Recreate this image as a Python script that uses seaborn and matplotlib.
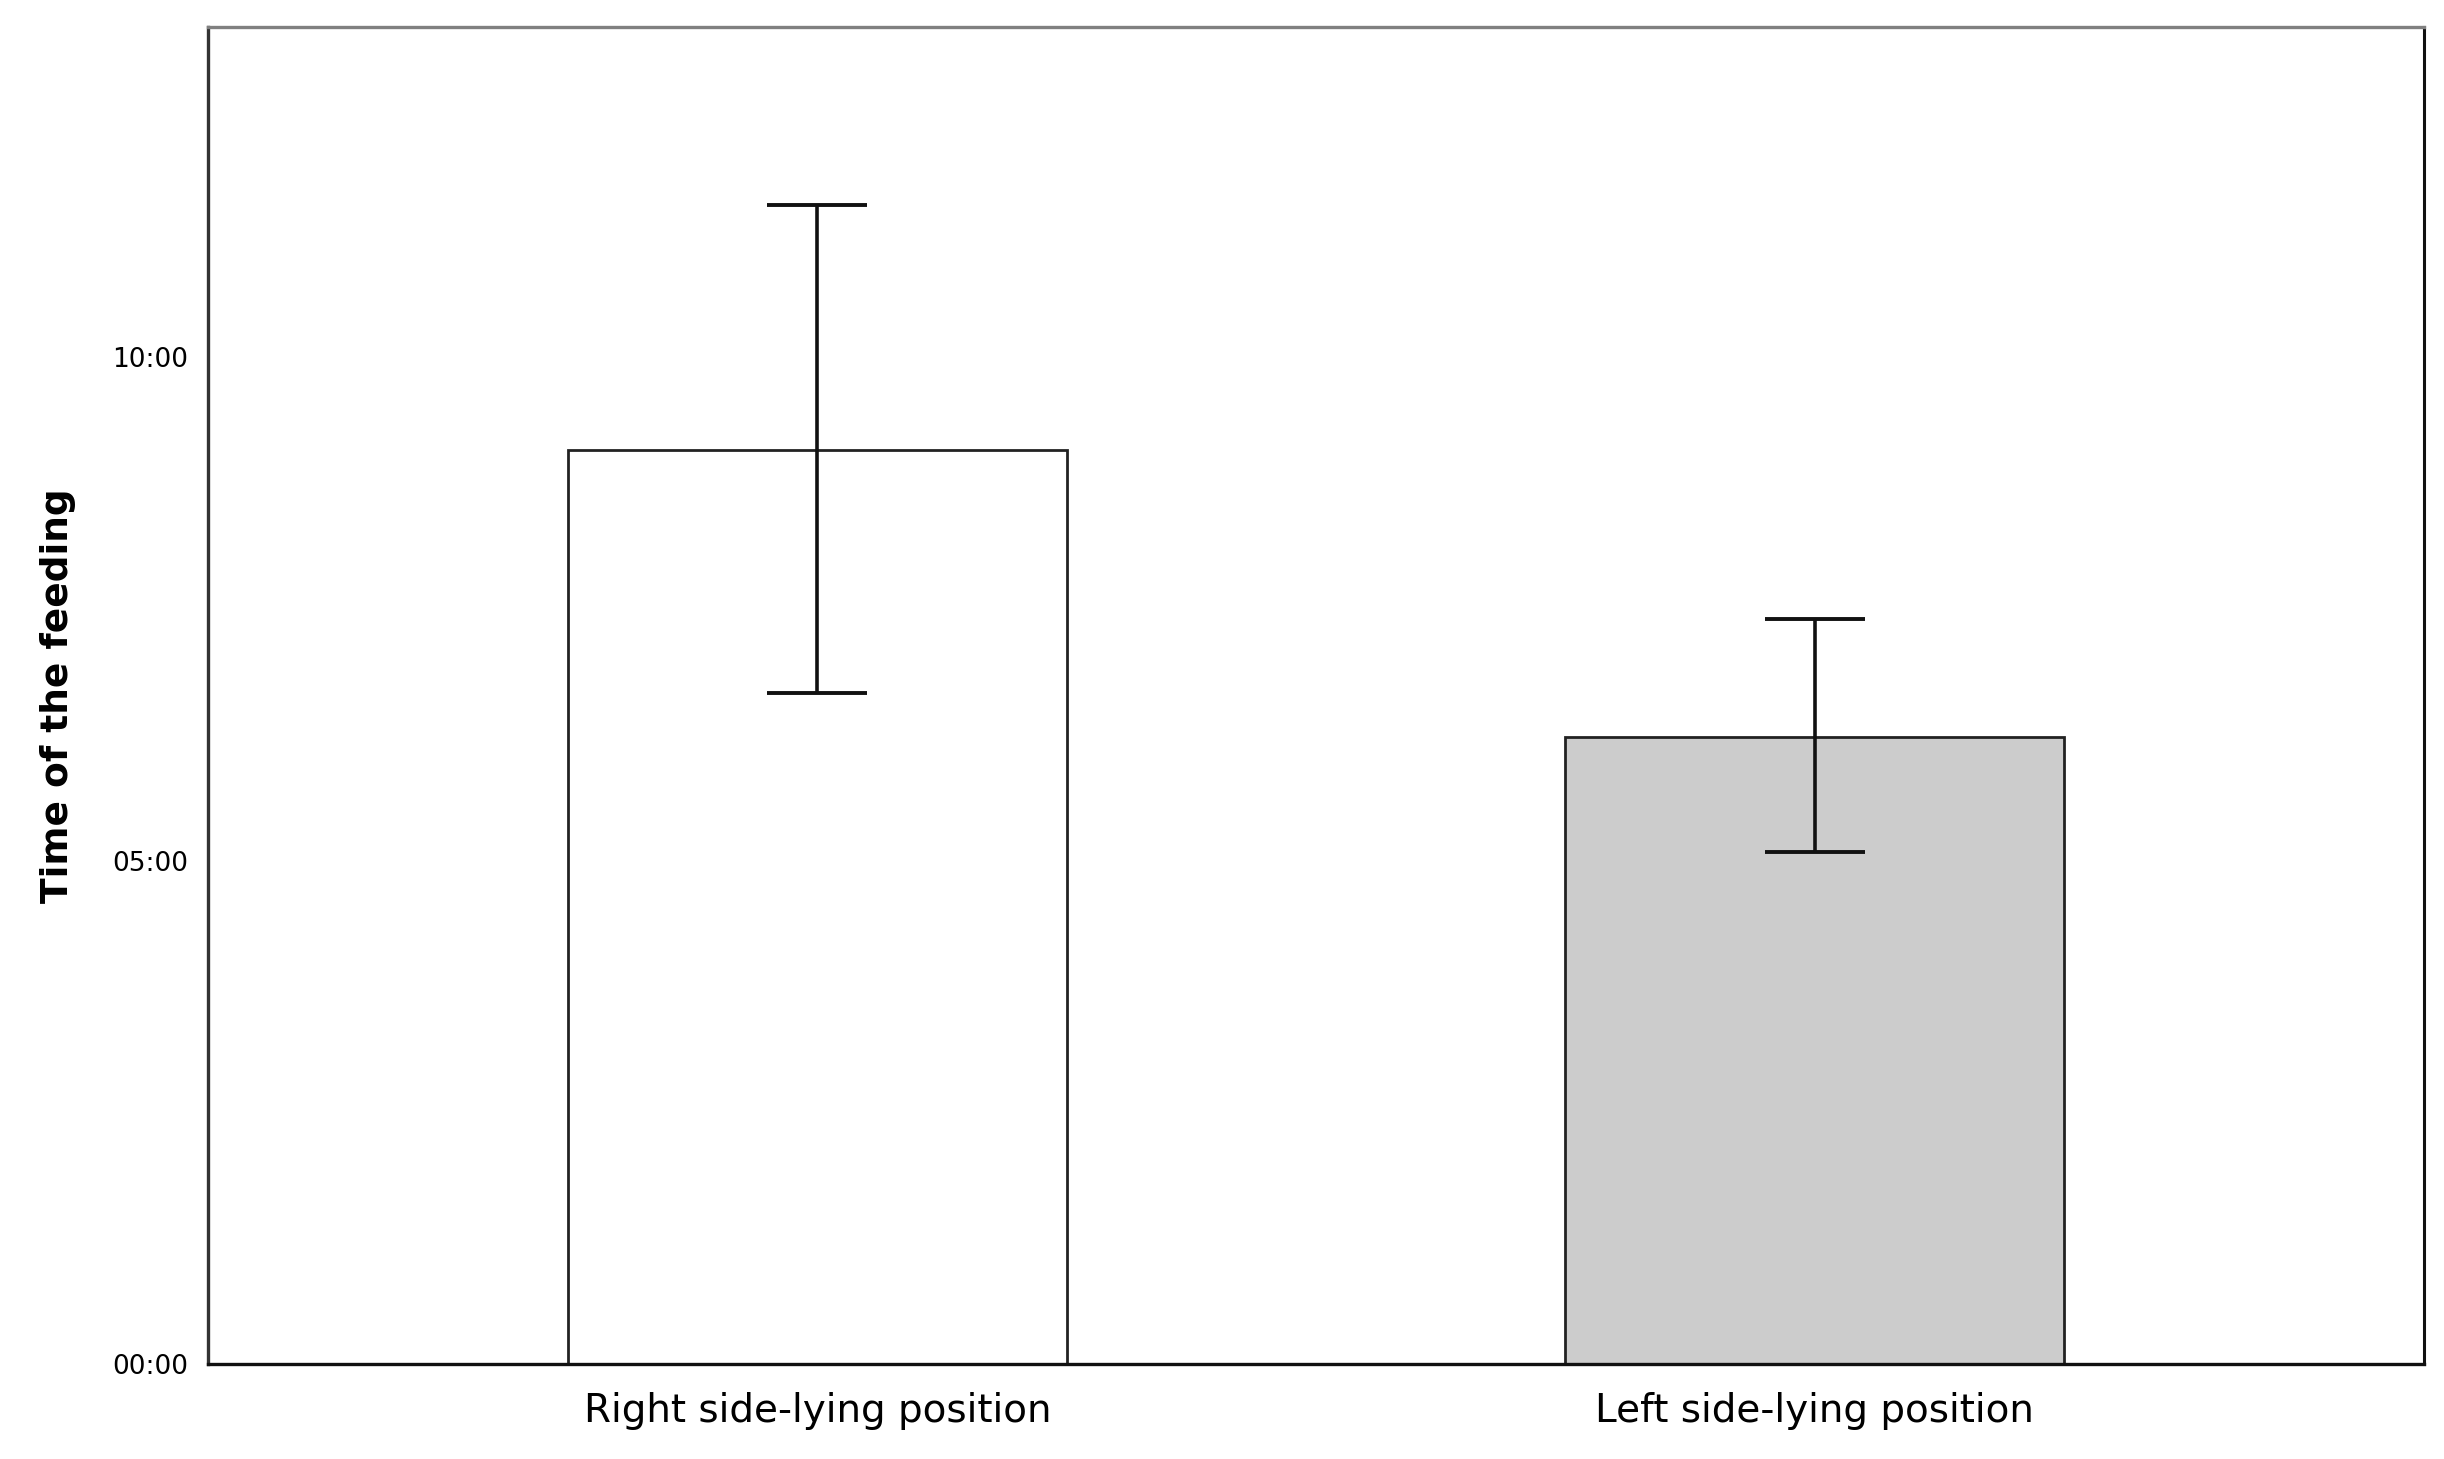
import numpy as np
import pandas as pd
import seaborn as sns
import matplotlib.pyplot as plt
from matplotlib.ticker import FuncFormatter

# ---------------------------------------------------- Data (seconds) ----------------------------------------------------
positions = ['Right side-lying position', 'Left side-lying position']
mean_time = [545, 374]      # bar heights, seconds
ci_low = [400, 305]         # lower end of error bar, seconds
ci_high = [691, 444]        # upper end of error bar, seconds
bar_colors = ['#ffffff', '#cccccc']
y_ticks = [0, 300, 600]
y_max = 797


def mmss(value, pos=None):
    value = int(round(value))
    return f'{value // 60:02d}:{value % 60:02d}'


df = pd.DataFrame({'position': positions, 'time': mean_time})

sns.set_style('white')
plt.rcParams['font.family'] = ['DejaVu Sans']
plt.rcParams['text.color'] = 'black'
plt.rcParams['axes.labelcolor'] = 'black'
plt.rcParams['xtick.color'] = 'black'
plt.rcParams['ytick.color'] = 'black'

fig = plt.figure(figsize=(24.44, 14.59), dpi=100)
ax = fig.add_axes([0.0851, 0.0651, 0.9067, 0.9164])

sns.barplot(data=df, x='position', y='time', hue='position', palette=bar_colors,
            width=0.5, edgecolor='#222222', linewidth=2.0, errorbar=None,
            legend=False, ax=ax)

# custom error bars
x = np.arange(len(positions))
lower = np.array(mean_time) - np.array(ci_low)
upper = np.array(ci_high) - np.array(mean_time)
ax.errorbar(x, mean_time, yerr=[lower, upper], fmt='none', ecolor='#111111',
            elinewidth=2.6, capsize=36, capthick=2.8)

ax.set_xlim(-0.611, 1.611)
ax.set_ylim(0, y_max)
ax.set_yticks(y_ticks)
ax.yaxis.set_major_formatter(FuncFormatter(mmss))
ax.tick_params(axis='both', length=0)
ax.tick_params(axis='y', labelsize=19, pad=14)
ax.tick_params(axis='x', labelsize=28, pad=20)

ax.set_xlabel('')
ax.set_ylabel('Time of the feeding', fontsize=27, fontweight='bold', labelpad=26)

ax.spines['top'].set_color('#808080')
ax.spines['top'].set_linewidth(2.4)
ax.spines['right'].set_color('#111111')
ax.spines['right'].set_linewidth(2.2)
ax.spines['left'].set_color('#333333')
ax.spines['left'].set_linewidth(2.4)
ax.spines['bottom'].set_color('#111111')
ax.spines['bottom'].set_linewidth(2.4)

fig.savefig('out.png', dpi=100)
